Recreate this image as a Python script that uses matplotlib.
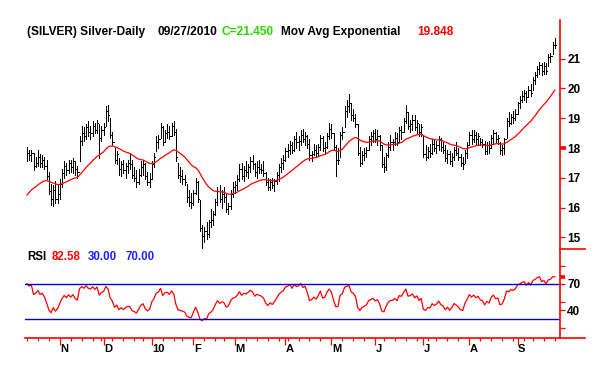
import matplotlib
matplotlib.use('Agg')
import matplotlib.pyplot as plt
from matplotlib.lines import Line2D
import numpy as np
import pandas as pd

plt.rcParams['font.family'] = ['Liberation Sans', 'DejaVu Sans']

# daily bars, 12 Oct 2009 .. 27 Sep 2010
highs = [
    18.05, 17.95, 17.95, 17.85, 17.7, 17.95, 17.8, 17.75, 17.7, 17.6,
    17.2, 16.8, 16.75, 16.9, 16.75, 16.95, 17.3, 17.55, 17.5, 17.6,
    17.6, 17.65, 17.55, 17.4, 18.4, 18.75, 18.7, 18.8, 18.9, 18.75,
    18.9, 18.85, 18.95, 18.8, 18.75, 18.85, 19.4, 19.45, 19.0, 18.55,
    18.0, 17.9, 17.65, 17.55, 17.6, 17.5, 17.6, 17.85, 17.6, 17.35,
    17.25, 17.3, 17.55, 17.6, 17.5, 17.2, 17.15, 17.55, 17.85, 18.4,
    18.45, 18.85, 18.75, 18.6, 18.8, 18.75, 18.85, 18.9, 18.65, 17.5,
    17.35, 17.25, 17.1, 16.8, 16.6, 16.5, 16.6, 17.0, 16.9, 16.25,
    15.4, 15.35, 15.5, 15.6, 15.95, 15.9, 16.3, 16.7, 16.75, 16.6,
    16.7, 16.5, 16.15, 16.6, 16.85, 16.9, 17.1, 17.45, 17.5, 17.4,
    17.55, 17.45, 17.7, 17.75, 17.5, 17.55, 17.6, 17.45, 17.55, 17.2,
    17.0, 16.95, 17.0, 16.95, 17.2, 17.45, 17.65, 17.75, 18.0, 18.15,
    18.25, 18.2, 18.4, 18.55, 18.4, 18.6, 18.65, 18.55, 18.45, 18.3,
    17.9, 18.15, 18.1, 18.15, 18.45, 18.4, 18.2, 18.5, 18.85, 18.8,
    18.5, 18.1, 18.0, 18.55, 18.7, 19.4, 19.6, 19.8, 19.5, 19.3,
    19.15, 18.8, 18.05, 17.9, 18.0, 18.05, 18.4, 18.55, 18.6, 18.65,
    18.6, 18.45, 18.1, 17.7, 17.85, 18.2, 18.45, 18.3, 18.55, 18.5,
    18.7, 18.75, 19.0, 19.45, 19.2, 18.95, 19.1, 19.1, 18.95, 18.8,
    18.8, 18.45, 18.1, 18.05, 18.15, 18.3, 18.3, 18.25, 18.4, 18.35,
    18.2, 18.1, 17.95, 17.9, 17.85, 18.05, 18.2, 18.0, 17.8, 17.7,
    17.95, 18.2, 18.55, 18.6, 18.6, 18.55, 18.5, 18.35, 18.3, 18.25,
    18.2, 18.25, 18.45, 18.6, 18.55, 18.45, 18.2, 18.1, 18.35, 19.0,
    19.2, 19.15, 19.25, 19.3, 19.55, 19.75, 19.9, 19.95, 19.9, 20.1,
    20.15, 20.4, 20.55, 20.75, 20.9, 20.85, 20.9, 20.85, 21.15, 21.2,
    21.55, 21.7]
lows = [
    17.55, 17.6, 17.55, 17.25, 17.35, 17.4, 17.35, 17.35, 17.3, 16.95,
    16.45, 16.1, 16.05, 16.15, 16.15, 16.3, 16.7, 17.0, 17.1, 17.15,
    17.2, 17.15, 17.1, 17.0, 17.55, 18.1, 18.25, 18.3, 18.4, 18.3,
    18.4, 18.5, 18.5, 17.65, 18.25, 18.45, 18.75, 18.9, 18.35, 18.1,
    17.5, 17.45, 17.1, 17.05, 17.15, 17.0, 17.15, 17.3, 17.0, 16.9,
    16.7, 16.8, 17.05, 17.1, 16.95, 16.75, 16.7, 16.95, 17.35, 17.9,
    18.0, 18.35, 18.1, 18.2, 18.35, 18.3, 18.4, 18.45, 17.55, 17.0,
    16.85, 16.8, 16.75, 16.2, 16.05, 16.0, 16.1, 16.45, 16.2, 15.2,
    14.65, 14.85, 14.95, 15.0, 15.35, 15.4, 15.75, 16.1, 16.2, 16.0,
    16.2, 15.85, 15.8, 15.95, 16.35, 16.5, 16.6, 16.9, 16.95, 16.9,
    17.05, 17.0, 17.2, 17.3, 17.05, 17.0, 17.15, 17.15, 17.05, 16.75,
    16.6, 16.6, 16.65, 16.55, 16.8, 16.9, 17.2, 17.3, 17.55, 17.7,
    17.8, 17.85, 17.9, 18.0, 17.95, 18.1, 18.2, 18.1, 18.0, 17.6,
    17.55, 17.75, 17.7, 17.75, 17.95, 17.9, 17.85, 18.0, 18.3, 18.35,
    17.95, 17.05, 17.45, 17.7, 18.3, 18.7, 19.05, 19.2, 18.95, 18.9,
    18.7, 17.75, 17.4, 17.45, 17.6, 17.7, 17.95, 18.1, 18.2, 18.2,
    18.1, 17.95, 17.35, 17.2, 17.25, 17.7, 17.95, 17.95, 18.1, 18.1,
    18.2, 18.3, 18.55, 18.85, 18.65, 18.55, 18.6, 18.6, 18.5, 18.4,
    18.4, 17.7, 17.6, 17.65, 17.7, 17.8, 17.9, 17.85, 17.95, 17.9,
    17.85, 17.55, 17.5, 17.45, 17.4, 17.6, 17.75, 17.6, 17.4, 17.3,
    17.5, 17.65, 18.1, 18.15, 18.2, 18.15, 18.1, 18.1, 18.05, 17.8,
    17.8, 17.85, 18.0, 18.15, 18.2, 18.15, 17.8, 17.75, 17.8, 18.35,
    18.75, 18.8, 18.85, 18.95, 19.15, 19.35, 19.55, 19.6, 19.55, 19.75,
    19.75, 19.95, 20.15, 20.4, 20.5, 20.45, 20.5, 20.5, 20.75, 20.9,
    21.15, 21.35]
closes = [
    17.85, 17.75, 17.85, 17.4, 17.5, 17.7, 17.5, 17.6, 17.4, 17.05,
    16.55, 16.3, 16.6, 16.3, 16.45, 16.8, 17.15, 17.4, 17.25, 17.5,
    17.35, 17.55, 17.3, 17.2, 18.25, 18.5, 18.4, 18.7, 18.55, 18.5,
    18.75, 18.6, 18.85, 18.35, 18.6, 18.7, 19.25, 19.1, 18.45, 18.2,
    17.6, 17.8, 17.3, 17.45, 17.25, 17.4, 17.5, 17.45, 17.1, 17.0,
    16.85, 17.1, 17.35, 17.45, 17.05, 16.85, 16.95, 17.45, 17.7, 18.2,
    18.3, 18.7, 18.2, 18.5, 18.55, 18.4, 18.75, 18.55, 17.7, 17.1,
    17.05, 16.95, 16.85, 16.35, 16.2, 16.15, 16.5, 16.85, 16.3, 15.3,
    15.05, 15.2, 15.1, 15.5, 15.6, 15.8, 16.2, 16.55, 16.3, 16.45,
    16.35, 15.95, 16.05, 16.45, 16.7, 16.75, 16.95, 17.3, 17.05, 17.25,
    17.2, 17.35, 17.55, 17.45, 17.2, 17.35, 17.3, 17.25, 17.15, 16.85,
    16.7, 16.85, 16.75, 16.9, 17.1, 17.35, 17.5, 17.6, 17.9, 17.95,
    18.1, 17.95, 18.3, 18.2, 18.25, 18.45, 18.3, 18.4, 18.15, 17.75,
    17.8, 17.95, 17.85, 18.05, 18.35, 18.0, 18.05, 18.4, 18.65, 18.5,
    18.05, 17.6, 17.6, 18.45, 18.55, 19.25, 19.4, 19.5, 19.1, 19.0,
    18.8, 17.85, 17.5, 17.75, 17.85, 17.95, 18.3, 18.4, 18.5, 18.3,
    18.4, 18.1, 17.45, 17.35, 17.75, 18.05, 18.2, 18.2, 18.35, 18.2,
    18.6, 18.55, 18.9, 19.2, 18.75, 18.8, 18.95, 18.7, 18.85, 18.55,
    18.7, 17.8, 17.7, 17.9, 17.85, 18.15, 18.0, 18.1, 18.3, 18.05,
    17.95, 17.65, 17.8, 17.55, 17.7, 17.95, 17.85, 17.7, 17.5, 17.45,
    17.85, 18.1, 18.45, 18.3, 18.45, 18.3, 18.4, 18.2, 18.15, 17.9,
    18.1, 18.0, 18.35, 18.5, 18.3, 18.35, 17.95, 18.0, 18.3, 18.9,
    18.85, 19.05, 19.0, 19.15, 19.5, 19.6, 19.75, 19.85, 19.7, 19.95,
    19.85, 20.3, 20.45, 20.65, 20.8, 20.6, 20.75, 20.6, 21.05, 21.1,
    21.45, 21.45]

holidays = ['2009-11-26', '2009-12-25', '2010-01-01', '2010-01-18', '2010-02-15',
            '2010-04-02', '2010-05-31', '2010-07-05', '2010-09-06']
month_labels = ['N', 'D', '10', 'F', 'M', 'A', 'M', 'J', 'J', 'A', 'S']
price_ticks = [15, 16, 17, 18, 19, 20, 21]

ema_period = 30
ema_start = 16.42     # EMA value at first bar
rsi_period = 14
rsi_gain0, rsi_loss0 = 0.14, 0.06

dates = pd.bdate_range('2009-10-12', '2010-09-27')
dates = dates[~dates.isin(pd.to_datetime(holidays))]
x = np.arange(len(closes))

# indicators
a = 2.0 / (ema_period + 1)
ema = [ema_start]
for c in closes[1:]:
    ema.append(ema[-1] + a * (c - ema[-1]))

ag, al = rsi_gain0, rsi_loss0
rsi = [100 - 100 / (1 + ag / al)]
for i in range(1, len(closes)):
    d = closes[i] - closes[i - 1]
    ag = (ag * (rsi_period - 1) + max(d, 0)) / rsi_period
    al = (al * (rsi_period - 1) + max(-d, 0)) / rsi_period
    rsi.append(100 - 100 / (1 + ag / al))

month_idx = [i for i in range(1, len(dates)) if dates[i].month != dates[i - 1].month]
week_idx = [i for i in range(1, len(dates))
            if dates[i].weekday() < dates[i - 1].weekday() and i not in month_idx]
week_idx = [0] + week_idx

W, H = 604, 374
fig = plt.figure(figsize=(W / 100, H / 100), dpi=100)

def fx(px):
    return px / W

def fy(py):
    return 1 - py / H

ax = fig.add_axes([fx(25), fy(249), fx(560) - fx(25), fy(20) - fy(249)])
ax2 = fig.add_axes([fx(25), fy(338.3), fx(560) - fx(25), fy(249) - fy(338.3)], sharex=ax)

# price bars + EMA
ax.vlines(x, lows, highs, color='black', lw=0.5, antialiased=False)
ax.hlines(closes, x, x + 0.6, color='black', lw=0.5, antialiased=False)
ax.plot(x, ema, color='red', lw=0.9)
ax.set_xlim(-0.9, 243.4)
ax.set_ylim(14.61, 22.3)

for s in ['left', 'top', 'bottom']:
    ax.spines[s].set_visible(False)
ax.spines['right'].set_color('red')
ax.spines['right'].set_linewidth(1.2)
ax.yaxis.tick_right()
ax.set_yticks(price_ticks)
ax.set_yticklabels([str(t) for t in price_ticks], fontweight='bold')
ax.tick_params(axis='y', direction='out', length=3.8, width=0.9, color='red',
               labelcolor='black', labelsize=8.5, pad=1.5)
ax.tick_params(axis='x', which='both', bottom=False, labelbottom=False)
ax.plot([1.0, 1.012], [18, 18], transform=ax.get_yaxis_transform(), color='red',
        lw=2.6, clip_on=False, solid_capstyle='butt')

# RSI panel
ax2.plot(x, rsi, color='red', lw=0.9)
ax2.axhline(70, color='#0000cc', lw=1.0)
ax2.axhline(30, color='#0000cc', lw=1.0)
ax2.set_ylim(8.7, 109)
for s in ['left', 'top']:
    ax2.spines[s].set_visible(False)
for s in ['right', 'bottom']:
    ax2.spines[s].set_color('red')
    ax2.spines[s].set_linewidth(1.2)
ax2.yaxis.tick_right()
ax2.set_yticks([20, 40, 50, 70, 90])
ax2.set_yticklabels(['', '40', '', '70', ''], fontweight='bold')
ax2.tick_params(axis='y', direction='out', length=3.8, width=0.9, color='red',
                labelcolor='black', labelsize=8.5, pad=1.5)
ax2.set_xticks(month_idx)
ax2.set_xticks(week_idx, minor=True)
ax2.tick_params(axis='x', which='major', direction='out', length=5, width=0.9,
                color='red', labelbottom=False)
ax2.tick_params(axis='x', which='minor', direction='out', length=2.2, width=0.9,
                color='red')
ax2.plot([1.0, 1.01], [rsi[-1], rsi[-1]], transform=ax2.get_yaxis_transform(),
         color='red', lw=2.6, clip_on=False, solid_capstyle='butt')
for i, lab in zip(month_idx, month_labels):
    ax2.text(i + 0.3, -0.125, lab, transform=ax2.get_xaxis_transform(), ha='left',
             va='center', fontsize=8, fontweight='bold')

# axis extensions on the right
fig.add_artist(Line2D([fx(560), fx(585)], [fy(249), fy(249)], color='red', lw=1.2))
fig.add_artist(Line2D([fx(560), fx(585)], [fy(338.3), fy(338.3)], color='red', lw=1.2))

# header texts
hdr = dict(fontsize=8.6, fontweight='bold', va='center', ha='left')
fig.text(fx(27), fy(32), '(SILVER) Silver-Daily', color='black', **hdr)
fig.text(fx(157), fy(32), '09/27/2010', color='black', **hdr)
fig.text(fx(222), fy(32), 'C=21.450', color='#2bd600', **hdr)
fig.text(fx(281), fy(32), 'Mov Avg Exponential', color='black', **hdr)
fig.text(fx(417), fy(32), '19.848', color='red', **hdr)

rsi_hdr = dict(fontsize=8.3, fontweight='bold', va='center', ha='left')
fig.text(fx(27), fy(257.5), 'RSI', color='black', **rsi_hdr)
fig.text(fx(52), fy(257.5), '82.58', color='red', **rsi_hdr)
fig.text(fx(88), fy(257.5), '30.00', color='#2020ff', **rsi_hdr)
fig.text(fx(125), fy(257.5), '70.00', color='#2020ff', **rsi_hdr)

fig.savefig('out.png', dpi=100, facecolor='white')
